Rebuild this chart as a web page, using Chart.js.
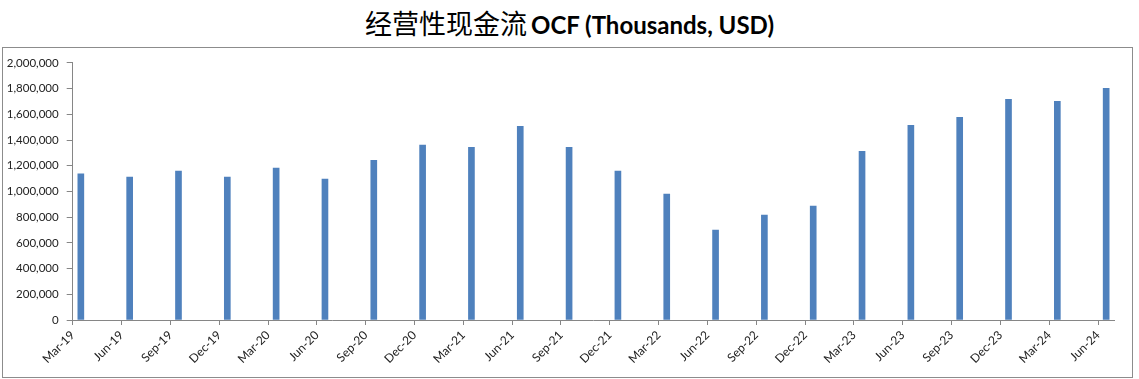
<!DOCTYPE html>
<html>
<head>
<meta charset="utf-8">
<script src="https://cdn.jsdelivr.net/npm/chart.js@4"></script>
<style>
  html, body { margin: 0; padding: 0; background: #fff; }
  body { width: 1139px; height: 379px; position: relative; overflow: hidden; }
  #title {
    position: absolute; left: 0; top: 0; width: 1139px; height: 47px;
    text-align: center; line-height: 46px; color: #000; white-space: nowrap;
  }
  #title .zh { font-family: "Noto Sans CJK SC", sans-serif; font-size: 27px; }
  #title .en { font-family: Lato, "Open Sans", sans-serif; font-weight: bold; font-size: 24px; }
  #box {
    position: absolute; left: 2px; top: 47px; width: 1131px; height: 331px;
    box-sizing: border-box; border: 1px solid #8c8c8c;
  }
  #ocfChart { position: absolute; left: 0; top: 0; }
</style>
</head>
<body>
<div id="title"><span class="zh">经营性现金流</span> <span class="en">OCF (Thousands, USD)</span></div>
<div id="box"><canvas id="ocfChart" width="1129" height="329"></canvas></div>

<script>
// quarter-end labels and operating cash flow (thousands USD)
const quarterLabels = [
  'Mar-19', 'Jun-19', 'Sep-19', 'Dec-19',
  'Mar-20', 'Jun-20', 'Sep-20', 'Dec-20',
  'Mar-21', 'Jun-21', 'Sep-21', 'Dec-21',
  'Mar-22', 'Jun-22', 'Sep-22', 'Dec-22',
  'Mar-23', 'Jun-23', 'Sep-23', 'Dec-23',
  'Mar-24', 'Jun-24'
];
const ocfValues = [
  1137000, 1111000, 1158000, 1111000,
  1181000, 1096000, 1243000, 1360000,
  1344000, 1507000, 1344000, 1158000,
  979000, 699000, 816000, 886000,
  1313000, 1515000, 1577000, 1717000,
  1702000, 1803000
];
const yTicks = [0, 200000, 400000, 600000, 800000, 1000000, 1200000, 1400000, 1600000, 1800000, 2000000];

// date axis in months: tick at quarter month, bar in the middle of that month
const MONTHS = 3;

function loadOcfChart() {
  const canvas = document.getElementById("ocfChart");
  const ctx = canvas.getContext("2d");
  const axisGray = "#868686";
  const tickFont = { family: "Lato, 'Open Sans', sans-serif", size: 11.5 };

  new Chart(ctx, {
    type: "bar",
    data: {
      datasets: [{
        label: "OCF",
        data: ocfValues.map((v, i) => ({ x: i * MONTHS + 0.5, y: v })),
        backgroundColor: "#4F81BD",
        borderWidth: 0,
        barThickness: 6
      }]
    },
    options: {
      responsive: false,
      animation: false,
      layout: { padding: { top: 14.6, right: 17.7, left: 0, bottom: 0 } },
      plugins: {
        legend: { display: false },
        tooltip: { enabled: false }
      },
      scales: {
        x: {
          type: "linear",
          min: 0,
          max: quarterLabels.length * MONTHS - 2,
          offset: false,
          grid: { drawOnChartArea: false, offset: false, tickLength: 5, color: axisGray },
          border: { color: axisGray },
          afterBuildTicks: s => { s.ticks = quarterLabels.map((_, i) => ({ value: i * MONTHS })); },
          ticks: {
            autoSkip: false,
            minRotation: 45,
            maxRotation: 45,
            padding: 3,
            color: "#222",
            font: { family: "Lato, 'Open Sans', sans-serif", size: 12 },
            callback: v => quarterLabels[Math.round(v / MONTHS)]
          },
          afterFit: s => { s.height = 57; }
        },
        y: {
          min: 0,
          max: 2000000,
          grid: { drawOnChartArea: false, tickLength: 6, color: axisGray },
          border: { color: axisGray },
          afterBuildTicks: s => { s.ticks = yTicks.map(v => ({ value: v })); },
          ticks: {
            padding: 8,
            color: "#222",
            font: tickFont,
            callback: v => v.toLocaleString("en-US")
          },
          afterFit: s => { s.width = 69.7; }
        }
      }
    }
  });
}
document.addEventListener("DOMContentLoaded", loadOcfChart);
</script>
</body>
</html>
